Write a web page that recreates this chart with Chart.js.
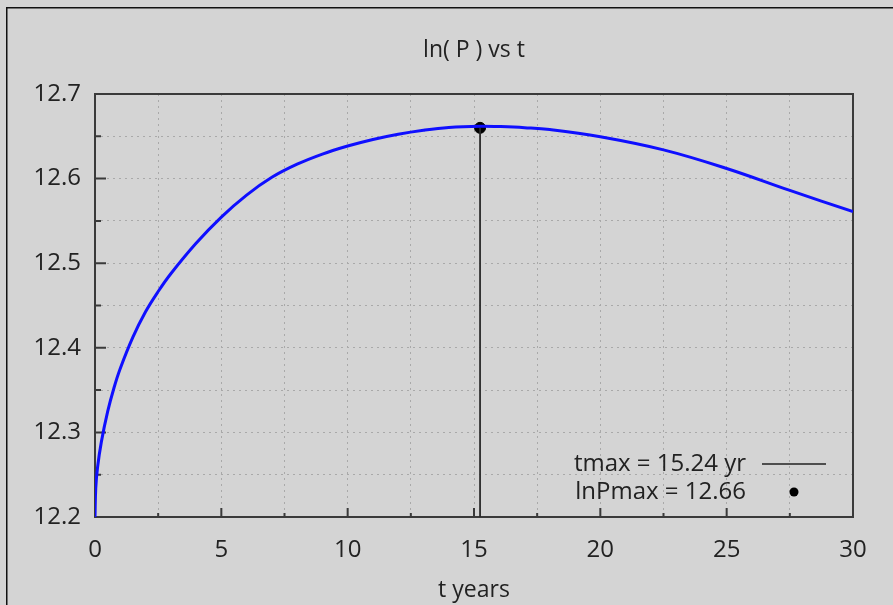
<!DOCTYPE html>
<html>
<head>
<meta charset="utf-8">
<script src="https://cdn.jsdelivr.net/npm/chart.js@4"></script>
<style>
    html, body { margin: 0; padding: 0; background: #d4d4d4; }
    #wrap { position: relative; width: 893px; height: 605px; }
</style>
</head>
<body>
<div id="wrap"><canvas id="lnp_chart" width="893" height="605"></canvas></div>
<script>
// ---------------- DATA -----------------
const tYears = [0, 0.03, 0.1, 0.25, 0.5, 0.75, 1, 1.5, 2, 2.5, 3, 4, 5, 6, 7, 8, 9, 10, 11, 12, 13, 14, 15.24, 16, 17, 18, 20, 22.5, 25, 27.5, 30];
const lnP = [12.2, 12.234, 12.2585, 12.2885, 12.3245, 12.3525, 12.3755, 12.4125, 12.4425, 12.4665, 12.4875, 12.5235, 12.5545, 12.5805, 12.6015, 12.617, 12.629, 12.6385, 12.6463, 12.6525, 12.6572, 12.6605, 12.662, 12.6615, 12.6602, 12.658, 12.6495, 12.634, 12.612, 12.586, 12.561];

const tMax = 15.24;
const lnPMax = 12.66;

const xTickLabels = ["0", "5", "10", "15", "20", "25", "30"];
const yTickLabels = ["12.2", "12.3", "12.4", "12.5", "12.6", "12.7"];

const legendLabels = ["tmax = 15.24 yr", "lnPmax = 12.66"];

const FONT = "'Open Sans', 'Noto Sans', sans-serif";

// -------------- HELPERS ---------------
const isMajor = (v, step) => Math.abs(v / step - Math.round(v / step)) < 1e-6;

const labelFor = (list, v) => {
    const hit = list.find((s) => Math.abs(parseFloat(s) - v) < 1e-6);
    return hit !== undefined ? hit : "";
};

// frame, outer border, inward ticks and the legend
const framePlugin = {
    id: "frame",
    beforeDraw(chart) {
        const ctx = chart.ctx;
        ctx.save();
        ctx.fillStyle = "#111";
        ctx.fillRect(6, 7, chart.width - 6, 1.5);
        ctx.fillRect(6, 7, 1.5, chart.height - 7);
        ctx.restore();
    },
    beforeDatasetsDraw(chart) {
        const { ctx, chartArea: a, scales } = chart;
        ctx.save();
        ctx.strokeStyle = "#3a3a3a";
        ctx.lineWidth = 2;
        ctx.strokeRect(a.left, a.top, a.right - a.left, a.bottom - a.top);

        ctx.beginPath();
        scales.y.ticks.forEach((t) => {
            const y = scales.y.getPixelForValue(t.value);
            const len = isMajor(t.value, 0.1) ? 11 : 6;
            ctx.moveTo(a.left, y);
            ctx.lineTo(a.left + len, y);
        });
        scales.x.ticks.forEach((t) => {
            const x = scales.x.getPixelForValue(t.value);
            const len = isMajor(t.value, 5) ? 9 : 4;
            ctx.moveTo(x, a.bottom);
            ctx.lineTo(x, a.bottom - len);
        });
        ctx.stroke();
        ctx.restore();
    },
    afterDraw(chart) {
        const ctx = chart.ctx;
        const textRight = 746;
        const sampleLeft = 762;
        const sampleRight = 826;
        const rows = [464, 492];
        ctx.save();
        ctx.font = "24px " + FONT;
        ctx.fillStyle = "#222";
        ctx.textAlign = "right";
        ctx.textBaseline = "middle";
        legendLabels.forEach((txt, i) => ctx.fillText(txt, textRight, rows[i]));

        ctx.strokeStyle = "#222";
        ctx.lineWidth = 1.5;
        ctx.beginPath();
        ctx.moveTo(sampleLeft, rows[0]);
        ctx.lineTo(sampleRight, rows[0]);
        ctx.stroke();

        ctx.fillStyle = "#000";
        ctx.beginPath();
        ctx.arc(794, rows[1], 4.5, 0, Math.PI * 2);
        ctx.fill();
        ctx.restore();
    },
};

// -------------- CHART --------------
const ctx = document.getElementById("lnp_chart");

new Chart(ctx, {
    type: "scatter",
    data: {
        datasets: [
            {
                label: "ln(P)",
                data: tYears.map((t, i) => ({ x: t, y: lnP[i] })),
                showLine: true,
                borderColor: "#0f0fff",
                borderWidth: 3,
                pointRadius: 0,
                tension: 0.4,
            },
            {
                label: legendLabels[0],
                data: [
                    { x: tMax, y: 12.2 },
                    { x: tMax, y: lnPMax },
                ],
                showLine: true,
                borderColor: "#2a2a2a",
                borderWidth: 1.8,
                pointRadius: 0,
            },
            {
                label: legendLabels[1],
                data: [{ x: tMax, y: lnPMax }],
                pointRadius: 5.5,
                backgroundColor: "#000",
                borderColor: "#000",
            },
        ],
    },
    options: {
        responsive: false,
        animation: false,
        layout: { padding: { left: 0, right: 40, top: 0, bottom: 0 } },
        plugins: {
            legend: { display: false },
            tooltip: { enabled: false },
            title: {
                display: true,
                text: "ln( P ) vs t",
                fullSize: false,
                color: "#222",
                font: { family: FONT, size: 23, weight: "normal", lineHeight: 1.2 },
                padding: { top: 37, bottom: 29.4 },
            },
        },
        scales: {
            x: {
                type: "linear",
                min: 0,
                max: 30,
                afterFit: (s) => { s.height = 88; },
                ticks: {
                    stepSize: 2.5,
                    autoSkip: false,
                    maxRotation: 0,
                    padding: 19,
                    color: "#222",
                    font: { family: FONT, size: 24 },
                    callback: (v) => labelFor(xTickLabels, v),
                },
                grid: {
                    color: "#a9a9a9",
                    lineWidth: 1,
                    drawTicks: false,
                },
                border: { display: false, dash: [2, 4] },
                title: {
                    display: true,
                    text: "t years",
                    color: "#222",
                    font: { family: FONT, size: 23, lineHeight: 1.2 },
                    padding: { top: 0, bottom: 1 },
                },
            },
            y: {
                type: "linear",
                min: 12.2,
                max: 12.7,
                afterFit: (s) => { s.width = 95; },
                ticks: {
                    stepSize: 0.05,
                    autoSkip: false,
                    padding: 14,
                    color: "#222",
                    font: { family: FONT, size: 24 },
                    callback: (v) => labelFor(yTickLabels, v),
                },
                grid: {
                    color: "#a9a9a9",
                    lineWidth: 1,
                    drawTicks: false,
                },
                border: { display: false, dash: [2, 4] },
            },
        },
    },
    plugins: [framePlugin],
});
</script>
</body>
</html>
